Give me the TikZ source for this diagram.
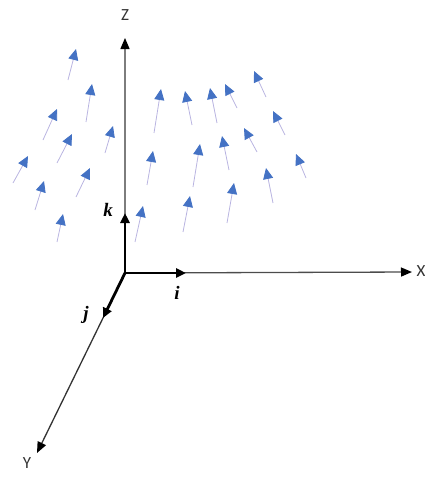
\documentclass[tikz,border=0pt]{standalone}
\usepackage{fontspec}
\setmainfont{Liberation Serif}
\setsansfont{Carlito}
\usetikzlibrary{arrows.meta}
\definecolor{fieldhead}{RGB}{68,114,196}
\definecolor{fieldshaft}{RGB}{185,180,225}
\definecolor{axisgray}{RGB}{125,125,125}

\begin{document}
\begin{tikzpicture}[x=1pt,y=-1pt,
    axis/.style={line width=1.3pt, -{Triangle[length=11pt,width=9pt,color=black]}},
    unitvec/.style={draw=black, line width=2.8pt, -{Triangle[length=10pt,width=9pt]}},
    axislabel/.style={font=\sffamily\fontsize{17}{19}\selectfont, text=black!80},
    veclabel/.style={font=\bfseries\itshape\fontsize{19}{21}\selectfont},
    field/.style={draw=fieldshaft, line width=0.8pt, -{Triangle[length=11pt,width=10pt,color=fieldhead]}}]
\useasboundingbox (0,0) rectangle (425,477);
                    % Nodes
                    \coordinate (O) at (125,273);
                    \coordinate (Zend) at (125,38);
                    \coordinate (Xend) at (412,272);
                    \coordinate (Yend) at (37,453);
                    \coordinate (kend) at (125,213);
                    \coordinate (iend) at (186,273);
                    \coordinate (jend) at (103,318);
                    \node[axislabel] (Z) at (125,15) {Z};
                    \node[axislabel] (X) at (421,271) {X};
                    \node[axislabel] (Y) at (27,463) {Y};
                    \node[veclabel] (k) at (108,210) {k};
                    \node[veclabel] (i) at (177,293) {i};
                    \node[veclabel] (j) at (86,315) {j};
                    % Field
                    \foreach \tx/\ty/\hx/\hy in {68/80/76/49, 86/122/92/84, 43/140/57/109,
                        57/163/72/134, 105/153/113/126, 13/183/28/156, 35/210/44/181,
                        76/197/90/168, 57/242/63/214, 135/242/143/206, 154/133/161/89,
                        192/125/185/91, 217/123/210/88, 237/108/225/84, 266/97/254/71,
                        285/135/273/111, 257/152/244/128, 229/170/222/136, 193/187/200/144,
                        147/185/153/151, 306/178/296/154, 273/203/266/168, 227/223/234/183,
                        183/232/190/196}
                        \draw[field] (\tx,\ty) -- (\hx,\hy);
                    % Axes
                    \draw[axis, draw=axisgray] (O) -- (Zend);
                    \draw[axis, draw=black!70] (O) -- (Xend);
                    \draw[axis, draw=black!80] (O) -- (Yend);
                    % Unit vectors
                    \draw[unitvec] (O) -- (kend);
                    \draw[unitvec] (O) -- (iend);
                    \draw[unitvec] (O) -- (jend);
                \end{tikzpicture}
\end{document}
